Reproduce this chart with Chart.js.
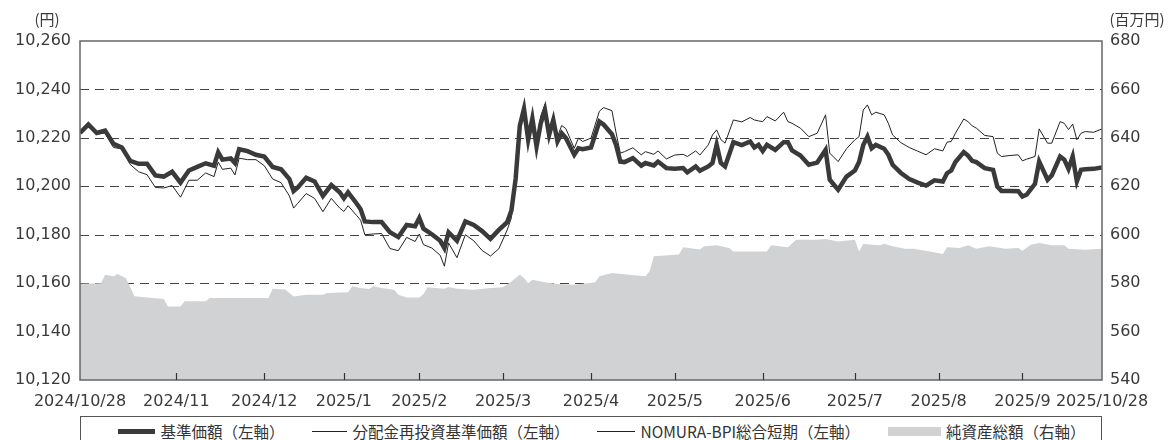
<!DOCTYPE html>
<html>
<head>
<meta charset="utf-8">
<script src="https://cdn.jsdelivr.net/npm/chart.js@4/dist/chart.umd.min.js"></script>
<style>
    body { margin: 0; background: #fff; }
    #wrap { position: relative; width: 1173px; height: 440px; overflow: hidden; }
    #chartBox { position: absolute; left: 0; top: 0; width: 1173px; height: 414px; }
    #legend {
        position: absolute; left: 80px; top: 416px; width: 1022px; height: 40px;
        border: 1px solid #555; box-sizing: border-box;
        display: flex; justify-content: center; align-items: flex-start; gap: 28px;
        padding-top: 5px; padding-left: 22px;
        font-family: 'Noto Sans CJK JP', sans-serif; font-size: 15.5px; color: #333;
    }
    #legend .item { display: flex; align-items: center; white-space: nowrap; line-height: 18px; }
    #legend .sample { display: inline-block; margin-right: 5px; }
</style>
</head>
<body>
<div id="wrap">
    <div id="chartBox"><canvas id="navChart"></canvas></div>
    <div id="legend"></div>
</div>
<script>
// business day index from 2024/10/28 (0) to 2025/10/28 (244)
const days = [
    0, 2, 4, 6, 8, 10, 12, 14, 16, 18,
    20, 22, 24, 26, 28, 30, 32, 33, 34, 36,
    37, 38, 40, 42, 44, 46, 48, 50, 51, 52,
    54, 56, 58, 60, 62, 63, 64, 66, 67, 68,
    70, 72, 74, 76, 78, 80, 81, 82, 84, 86,
    87, 88, 90, 92, 94, 96, 98, 100, 102, 103,
    104, 105, 106, 107, 108, 109, 110, 111, 112, 113,
    114, 115, 116, 118, 119, 120, 122, 124, 125, 127,
    128, 129, 130, 132, 134, 135, 137, 138, 140, 142,
    144, 145, 147, 148, 150, 151, 152, 153, 154, 156,
    158, 160, 161, 162, 163, 164, 166, 168, 169, 170,
    172, 174, 176, 178, 179, 181, 183, 185, 186, 187,
    188, 189, 190, 192, 193, 194, 196, 198, 200, 202,
    204, 206, 207, 208, 209, 211, 212, 213, 214, 216,
    218, 219, 220, 222, 224, 225, 226, 228, 229, 231,
    232, 234, 235, 236, 237, 238, 239, 240, 242, 244
];

// 基準価額
const nav = [
    10222, 10225.5, 10222, 10223, 10217.5, 10216, 10210.5, 10209.3, 10209.3, 10204.5,
    10204, 10206, 10201.5, 10206.5, 10208, 10209.5, 10208.5, 10214, 10211, 10211.5,
    10209.6, 10215.3, 10214.5, 10213, 10212.3, 10208, 10207, 10203, 10198, 10199.5,
    10203.5, 10202, 10196, 10200.5, 10197.5, 10195, 10197.5, 10193, 10190.5, 10185.5,
    10185.2, 10185.2, 10181, 10179, 10184, 10183.5, 10186.9, 10182.5, 10180.2, 10177.5,
    10174.5, 10181, 10177.5, 10185.5, 10184, 10181.5, 10178.3, 10182, 10185.2, 10190,
    10203, 10225, 10232, 10219.2, 10228, 10216.4, 10226, 10231.5, 10221.2, 10227.4,
    10218.5, 10221.9, 10219.9, 10213, 10215.7, 10215.3, 10216, 10226.7, 10225.5, 10221.5,
    10217, 10210.2, 10210, 10211.6, 10208.5, 10209.6, 10208.6, 10210.2, 10207.5, 10207.2,
    10207.5, 10205.8, 10208.2, 10206.4, 10208.2, 10209.6, 10217.1, 10209.6, 10208.2, 10218.2,
    10217, 10218.5, 10216, 10217.1, 10214.6, 10217.1, 10215, 10218.2, 10218.2, 10214.8,
    10212.7, 10208.9, 10209.8, 10215, 10202.7, 10198.6, 10204, 10206.5, 10210, 10217,
    10220.5, 10215.7, 10217.1, 10215.5, 10213, 10208.9, 10205.5, 10203, 10201.5, 10200.3,
    10202.5, 10202, 10205.4, 10206.5, 10210, 10214.1, 10212.7, 10210.5, 10210, 10207.5,
    10206.8, 10199.9, 10198.1, 10198.1, 10198, 10195.8, 10196.5, 10201, 10210.2, 10202.7,
    10204.5, 10212.3, 10211, 10207.2, 10212.3, 10202, 10206.8, 10207, 10207.2, 10207.8
];

// 分配金再投資基準価額: no distributions in the period, it lies under 基準価額
const reinvestNav = nav.slice();

// NOMURA-BPI総合短期
const bpi = [
    10222, 10225, 10221.5, 10222, 10216, 10215.5, 10209, 10206, 10204.8, 10199.5,
    10199.3, 10200.3, 10195.5, 10202.5, 10202.5, 10205.5, 10204, 10210, 10207, 10207.5,
    10204.7, 10211.6, 10211, 10211, 10208.5, 10203, 10201.5, 10196, 10191, 10193,
    10197, 10195, 10189.5, 10195, 10191, 10189.6, 10192, 10188, 10186, 10180,
    10180.3, 10180.5, 10174.3, 10173.4, 10178.9, 10177.2, 10180.3, 10175.9, 10174.5, 10171.5,
    10167, 10176.6, 10170.5, 10180, 10177.5, 10173.5, 10171.2, 10174.2, 10182, 10187,
    10204, 10225.4, 10234.3, 10221.2, 10228.5, 10218.5, 10229, 10233.9, 10221.9, 10228.9,
    10220.5, 10225.1, 10223.8, 10215.7, 10219.9, 10218.5, 10219.9, 10231, 10232.5, 10231.2,
    10222, 10213.7, 10214.3, 10215.9, 10213, 10214.3, 10213.2, 10214.6, 10211.3, 10212.9,
    10213.2, 10212.3, 10214.6, 10212.9, 10217.1, 10221.2, 10223.3, 10219.3, 10217.8, 10227.4,
    10226.6, 10228.4, 10227.4, 10227, 10226.7, 10228.8, 10227, 10230.6, 10226.7, 10226,
    10224, 10220.5, 10221.9, 10229.5, 10213.7, 10210.2, 10215.5, 10219.2, 10220.5, 10231.5,
    10233.6, 10229.5, 10230.6, 10229.5, 10226, 10221.2, 10218, 10216, 10214.5, 10213,
    10215.5, 10214.6, 10218.2, 10218.5, 10221.9, 10227.8, 10226.7, 10225, 10224, 10221,
    10220.5, 10213.7, 10212.3, 10212.7, 10213, 10210.5, 10211.2, 10212.3, 10223.7, 10217.8,
    10217.8, 10226.7, 10226, 10223.4, 10225.7, 10219.2, 10221.9, 10222.6, 10222.3, 10223.7
];

// 純資産総額 (百万円)
const assetDays = [
    0, 5, 6, 8, 9, 11, 13, 20, 21, 24,
    25, 30, 31, 45, 46, 49, 51, 54, 58, 59,
    64, 65, 67, 69, 70, 72, 75, 76, 78, 81,
    82, 83, 87, 88, 90, 94, 98, 101, 103, 105,
    106, 107, 108, 111, 114, 118, 121, 123, 124, 127,
    131, 135, 136, 137, 143, 144, 148, 149, 152, 155,
    156, 164, 165, 169, 171, 176, 178, 181, 185, 186,
    187, 191, 192, 194, 197, 199, 202, 206, 207, 210,
    212, 214, 217, 221, 224, 225, 227, 229, 232, 235,
    236, 240, 244
];
const assets = [
    579.8, 580, 583.5, 582.8, 583.8, 582, 574.6, 573.5, 570.4, 570.4,
    572.5, 572.5, 573.9, 573.9, 577.7, 577.4, 574.5, 575.2, 575.2, 575.9,
    576.2, 578.7, 578, 577.6, 578.7, 578, 577.3, 575.2, 574.1, 574.1,
    575.5, 578.3, 577.7, 578.4, 577.7, 577.3, 578, 578.3, 580.7, 583.5,
    582.1, 580, 581.4, 580.4, 579.6, 579.3, 580, 580.4, 582.8, 584.2,
    583.5, 582.8, 584.9, 591.1, 591.8, 594.8, 593.9, 595.2, 595.6, 594.5,
    593.1, 593.1, 595.6, 594.8, 597.9, 597.9, 598.2, 597.2, 597.9, 593.1,
    596.2, 595.6, 596.3, 595.2, 594.2, 594.2, 593.4, 592, 594.8, 594.5,
    595.6, 594.2, 595.2, 594.2, 594.5, 593.4, 595.9, 596.6, 595.6, 595.6,
    594.2, 593.8, 594.2
];

// month-end positions on the business day axis
const monthTicks = [0, 23, 44, 63, 81, 101, 122, 142, 163, 185, 205, 225, 244];
const tickLabels = [
    '2024/10/28', '2024/11', '2024/12', '2025/1', '2025/2', '2025/3', '2025/4',
    '2025/5', '2025/6', '2025/7', '2025/8', '2025/9', '2025/10/28'
];

const leftRange = { min: 10120, max: 10260, step: 20 };
const rightRange = { min: 540, max: 680, step: 20 };

const tickFont = { family: "'DejaVu Sans', 'Noto Sans CJK JP', sans-serif", size: 16 };
const textColor = '#3a3a3a';

function toPoints(xs, ys) {
    return xs.map((x, i) => ({ x: x, y: ys[i] }));
}

// dashed horizontal grid lines at the left axis ticks, under the data
const dashedGrid = {
    id: 'dashedGrid',
    beforeDatasetsDraw(chart) {
        const ctx = chart.ctx;
        const a = chart.chartArea;
        const ys = chart.scales.y;
        ctx.save();
        ctx.strokeStyle = '#444';
        ctx.lineWidth = 1;
        ctx.setLineDash([9, 6]);
        ys.ticks.forEach(t => {
            if (t.value === leftRange.min || t.value === leftRange.max) return;
            const py = Math.round(ys.getPixelForValue(t.value)) + 0.5;
            ctx.beginPath();
            ctx.moveTo(a.left, py);
            ctx.lineTo(a.right, py);
            ctx.stroke();
        });
        ctx.restore();
    }
};

// frame, inward ticks on the bottom axis, unit labels
const framePlugin = {
    id: 'frame',
    afterDatasetsDraw(chart) {
        const ctx = chart.ctx;
        const a = chart.chartArea;
        const xs = chart.scales.x;
        ctx.save();
        ctx.strokeStyle = '#666';
        ctx.lineWidth = 1.5;
        ctx.strokeRect(a.left, a.top, a.right - a.left, a.bottom - a.top);
        ctx.lineWidth = 1.2;
        ctx.strokeStyle = '#333';
        monthTicks.slice(1, -1).forEach(v => {
            const px = Math.round(xs.getPixelForValue(v)) + 0.5;
            ctx.beginPath();
            ctx.moveTo(px, a.bottom);
            ctx.lineTo(px, a.bottom - 7);
            ctx.stroke();
        });
        ctx.fillStyle = textColor;
        ctx.font = "15px 'Noto Sans CJK JP', sans-serif";
        ctx.textAlign = 'center';
        ctx.textBaseline = 'middle';
        ctx.fillText('(円)', 47, 19);
        ctx.fillText('(百万円)', 1137, 19);
        ctx.restore();
    }
};

// legend in html, from the datasets
const htmlLegend = {
    id: 'htmlLegend',
    afterUpdate(chart) {
        const box = document.getElementById('legend');
        box.innerHTML = '';
        chart.data.datasets.forEach(ds => {
            const item = document.createElement('div');
            item.className = 'item';
            const s = document.createElement('span');
            s.className = 'sample';
            s.style.width = ds.sampleW + 'px';
            s.style.height = ds.sampleH + 'px';
            s.style.background = ds.fill ? ds.backgroundColor : ds.borderColor;
            const t = document.createElement('span');
            t.textContent = ds.label;
            item.appendChild(s);
            item.appendChild(t);
            box.appendChild(item);
        });
    }
};

const ctx = document.getElementById('navChart').getContext('2d');
new Chart(ctx, {
    type: 'line',
    data: {
        datasets: [
            {
                label: '基準価額（左軸）',
                data: toPoints(days, nav),
                borderColor: '#3a3a3a',
                borderWidth: 4.5,
                yAxisID: 'y',
                order: 0,
                sampleW: 37, sampleH: 5
            },
            {
                label: '分配金再投資基準価額（左軸）',
                data: toPoints(days, reinvestNav),
                borderColor: '#222',
                borderWidth: 1,
                yAxisID: 'y',
                order: 1,
                sampleW: 35, sampleH: 1
            },
            {
                label: 'NOMURA-BPI総合短期（左軸）',
                data: toPoints(days, bpi),
                borderColor: '#222',
                borderWidth: 1,
                yAxisID: 'y',
                order: 2,
                sampleW: 38, sampleH: 1
            },
            {
                label: '純資産総額（右軸）',
                data: toPoints(assetDays, assets),
                borderWidth: 0,
                borderColor: 'rgba(0,0,0,0)',
                backgroundColor: '#d1d2d4',
                fill: 'start',
                yAxisID: 'y1',
                order: 3,
                sampleW: 53, sampleH: 9
            }
        ]
    },
    options: {
        responsive: true,
        maintainAspectRatio: false,
        animation: false,
        layout: { padding: { top: 41, left: 0, right: 0, bottom: 0 } },
        elements: {
            point: { radius: 0, hoverRadius: 0 },
            line: { tension: 0 }
        },
        plugins: {
            legend: { display: false },
            tooltip: { enabled: false }
        },
        scales: {
            x: {
                type: 'linear',
                min: 0,
                max: 244,
                afterBuildTicks: axis => {
                    axis.ticks = monthTicks.map(v => ({ value: v }));
                },
                afterFit: scale => { scale.height = 34; },
                ticks: {
                    autoSkip: false,
                    maxRotation: 0,
                    padding: 4,
                    color: textColor,
                    font: tickFont,
                    callback: value => tickLabels[monthTicks.indexOf(value)]
                },
                grid: { display: false },
                border: { display: false }
            },
            y: {
                position: 'left',
                min: leftRange.min,
                max: leftRange.max,
                afterFit: scale => { scale.width = 80; },
                ticks: {
                    stepSize: leftRange.step,
                    padding: 9,
                    color: textColor,
                    font: tickFont,
                    callback: value => value.toLocaleString('en-US')
                },
                grid: { display: false, drawTicks: false },
                border: { display: false }
            },
            y1: {
                position: 'right',
                min: rightRange.min,
                max: rightRange.max,
                afterFit: scale => { scale.width = 71; },
                ticks: {
                    stepSize: rightRange.step,
                    padding: 8,
                    color: textColor,
                    font: tickFont
                },
                grid: { display: false, drawTicks: false },
                border: { display: false }
            }
        }
    },
    plugins: [dashedGrid, framePlugin, htmlLegend]
});
</script>
</body>
</html>
